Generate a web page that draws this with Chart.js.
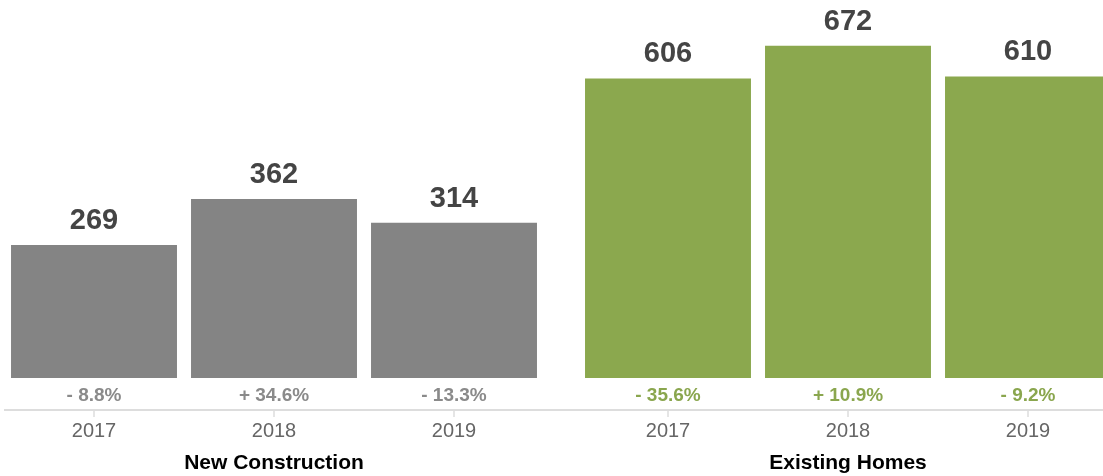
<!DOCTYPE html>
<html>
<head>
<meta charset="utf-8">
<script src="https://cdn.jsdelivr.net/npm/chart.js@4.4.1/dist/chart.umd.min.js"></script>
<style>
  html, body { margin: 0; padding: 0; background: #fff; }
  body { width: 1103px; height: 476px; overflow: hidden; position: relative; }
  .panel { position: absolute; top: 0; width: 560px; height: 476px; }
  #panelNew { left: 0; }
  #panelExisting { left: 560px; }
</style>
</head>
<body>
<div class="panel" id="panelNew"><canvas id="chartNew" width="560" height="476"></canvas></div>
<div class="panel" id="panelExisting"><canvas id="chartExisting" width="560" height="476"></canvas></div>
<script>
/* DATA */
const years = ['2017', '2018', '2019'];
const newConstruction = [269, 362, 314];
const existingHomes = [606, 672, 610];
const newConstructionChange = [-8.8, 34.6, -13.3];
const existingHomesChange = [-35.6, 10.9, -9.2];

const FONT = '"Liberation Sans", Arial, Helvetica, sans-serif';

function formatChange(v) {
    return (v < 0 ? '- ' : '+ ') + Math.abs(v).toFixed(1) + '%';
}

/* LABELS, AXIS LINE AND GROUP TITLE */
const groupDecor = {
    id: 'groupDecor',
    afterDatasetsDraw(chart, args, opts) {
        const ctx = chart.ctx;
        const area = chart.chartArea;
        const xScale = chart.scales.x;
        const meta = chart.getDatasetMeta(0);
        const lineY = area.bottom + 32;

        ctx.save();

        // baseline under the change row
        ctx.strokeStyle = '#dddddd';
        ctx.lineWidth = 2;
        ctx.beginPath();
        ctx.moveTo(opts.lineStart, lineY);
        ctx.lineTo(chart.width, lineY);
        ctx.stroke();

        ctx.textAlign = 'center';
        ctx.textBaseline = 'middle';

        meta.data.forEach((bar, i) => {
            const x = xScale.getPixelForValue(i);

            // small tick under the line
            ctx.strokeStyle = '#dddddd';
            ctx.lineWidth = 1.5;
            ctx.beginPath();
            ctx.moveTo(x, lineY + 1);
            ctx.lineTo(x, lineY + 7);
            ctx.stroke();

            // value above the bar
            ctx.fillStyle = '#444444';
            ctx.font = 'bold 29px ' + FONT;
            ctx.fillText(chart.data.datasets[0].data[i], bar.x, bar.y - 24);

            // year-on-year change
            ctx.fillStyle = opts.changeColor;
            ctx.font = 'bold 19px ' + FONT;
            ctx.fillText(formatChange(opts.changes[i]), x, area.bottom + 18);

            // year
            ctx.fillStyle = '#666666';
            ctx.font = '20px ' + FONT;
            ctx.fillText(chart.data.labels[i], x, area.bottom + 53);
        });

        // group title
        ctx.fillStyle = '#000000';
        ctx.font = 'bold 21px ' + FONT;
        ctx.fillText(opts.title, (area.left + area.right) / 2, area.bottom + 85);

        ctx.restore();
    }
};

function createBarChart(canvasId, values, changes, barColor, changeColor, title, padding, lineStart) {
    const ctx = document.getElementById(canvasId).getContext('2d');
    return new Chart(ctx, {
        type: 'bar',
        data: {
            labels: years,
            datasets: [{
                data: values,
                backgroundColor: barColor,
                borderWidth: 0,
                barPercentage: 0.922,
                categoryPercentage: 1,
            }],
        },
        options: {
            responsive: false,
            animation: false,
            layout: { padding: padding },
            scales: {
                x: { display: false },
                y: { display: false, min: 0, max: 700 },
            },
            plugins: {
                legend: { display: false },
                tooltip: { enabled: false },
                groupDecor: {
                    changes: changes,
                    changeColor: changeColor,
                    title: title,
                    lineStart: lineStart,
                },
            },
        },
        plugins: [groupDecor],
    });
}

createBarChart('chartNew', newConstruction, newConstructionChange,
    '#848484', '#8a8a8a', 'New Construction',
    { top: 32, bottom: 98, left: 4, right: 16 }, 4);

createBarChart('chartExisting', existingHomes, existingHomesChange,
    '#8ba84e', '#8aa64e', 'Existing Homes',
    { top: 32, bottom: 98, left: 18, right: 2 }, 0);
</script>
</body>
</html>
